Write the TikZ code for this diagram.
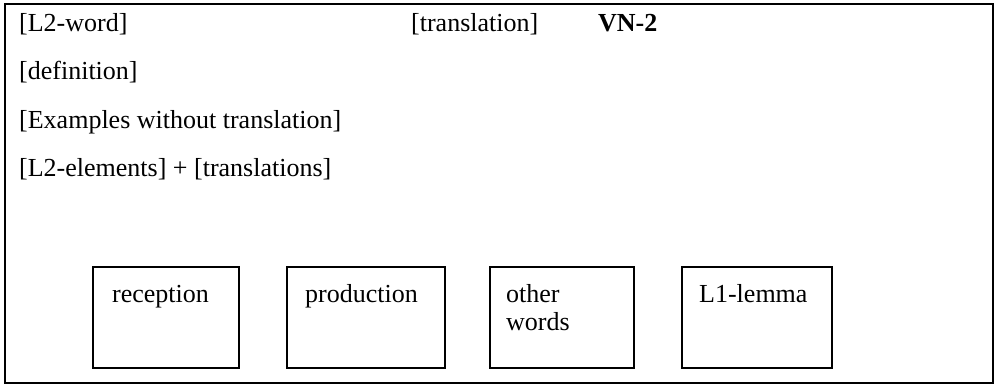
\documentclass[tikz,border=0pt]{standalone}
\usepackage{fontspec}
\setmainfont{Liberation Serif}
\usepackage{tikz}
\usetikzlibrary{positioning}

\tikzset{
  entry/.style={anchor=base west, inner sep=0pt, font=\fontsize{26}{30}\selectfont},
  box/.style={draw, line width=1.6pt, minimum height=101pt, inner sep=0pt},
}

\begin{document}
\begin{tikzpicture}[x=1pt, y=-1pt]
\useasboundingbox (0,0) rectangle (997,386);
\draw[line width=1.8pt] (5,4) rectangle (993,383);
% lines of the entry
\node[entry] (word) at (19,31) {[L2-word]};
\node[entry] (transl) at (411,31) {[translation]};
\node[entry] (vn) at (598,31) {\textbf{VN-2}};
\node[entry] (defin) at (19,79) {[definition]};
\node[entry] (examp) at (19,128) {[Examples without translation]};
\node[entry] (elem) at (19,176) {[L2-elements] + [translations]};
% boxes
\node[box, minimum width=146pt] (recbox) at (166,317.5) {};
\node[box, minimum width=158pt] (prodbox) at (366,317.5) {};
\node[box, minimum width=144pt] (othbox) at (562,317.5) {};
\node[box, minimum width=150pt] (lembox) at (757,317.5) {};
\node[entry] (rec) at (112,302) {reception};
\node[entry] (prod) at (305,302) {production};
\node[entry] (oth1) at (506,302) {other};
\node[entry] (oth2) at (506,330) {words};
\node[entry] (lem) at (699,302) {L1-lemma};
\end{tikzpicture}
\end{document}
